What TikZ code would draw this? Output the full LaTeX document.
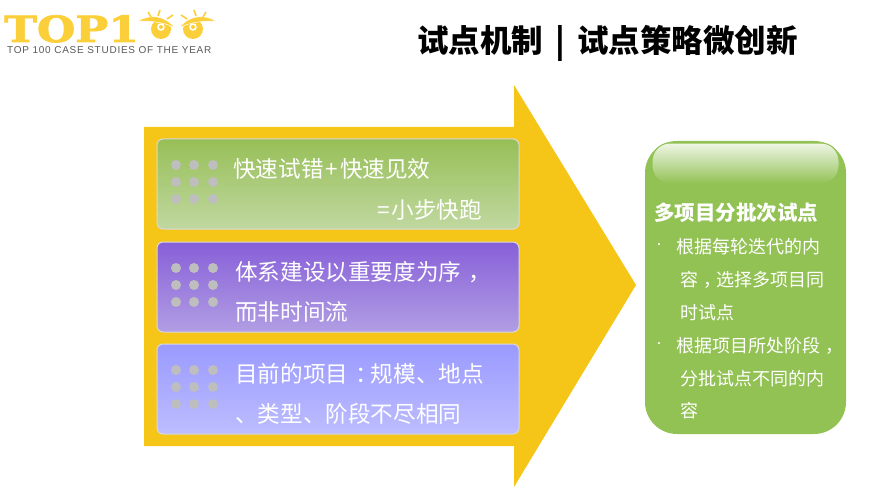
\documentclass[tikz,border=0pt]{standalone}
\usepackage{fontspec}
\setmainfont{Noto Sans CJK SC}
\newfontfamily\logofont[LetterSpace=7.5]{Liberation Sans}
\newfontfamily\topfont[BoldFeatures={FakeBold=2}]{DejaVu Serif}
\newfontfamily\dotfont{Liberation Sans}
\newcommand{\cellmark}[1]{\hspace{.32em}#1\hspace{-.32em}}
\definecolor{arrowyellow}{HTML}{F5C518}
\definecolor{logoyellow}{HTML}{FBCF3A}
\definecolor{sidegreen}{HTML}{92C154}
\definecolor{dotgray}{HTML}{BEBEBE}
\definecolor{greentop}{HTML}{97BF57}
\definecolor{greenlow}{HTML}{C0D8A0}
\definecolor{purpletop}{HTML}{875FD8}
\definecolor{purplelow}{HTML}{B19EE4}
\definecolor{bluetop}{HTML}{9A9AFF}
\definecolor{bluelow}{HTML}{BDBDFF}
\tikzset{
    pilotbox/.style={draw=white!85!black, line width=1pt, rounded corners=6pt},
    boxtext/.style={anchor=west, inner sep=0pt, text=white, font=\fontsize{22.6}{22.6}\selectfont},
    sidetext/.style={anchor=west, inner sep=0pt, text=white, font=\fontsize{18}{18}\selectfont},
    lash/.style={draw=logoyellow, line width=1.6pt},
}
\begin{document}
\begin{tikzpicture}[x=1pt, y=-1pt]
    \useasboundingbox (0,0) rectangle (875,492);

    % logo
    \node[anchor=base west, inner sep=0pt, text=logoyellow] (logotop) at (4,42) {\scalebox{1}[.82]{\fontsize{44}{44}\topfont\bfseries TOP1}};
    \node[anchor=west, inner sep=0pt, text=black!65] (logoline) at (7,50) {\fontsize{10}{10}\logofont TOP 100 CASE STUDIES OF THE YEAR};
    \foreach \ms/\mx in {1/0,-1/354} {
        \begin{scope}[xshift=\mx pt, xscale=\ms]
            \fill[logoyellow] (161,29) circle (10);
            \fill[white] (161,27) circle (3.8);
            \fill[logoyellow] (161,27) circle (2);
            \fill[logoyellow, draw=white, line width=0.5pt] (138,21) .. controls (150,14) and (165,15) .. (175,28) .. controls (165,22) and (150,21) .. (138,21) -- cycle;
            \draw[lash] (148,12) -- (151,17);
            \draw[lash] (160,10) -- (158,16);
            \draw[lash] (173,15) -- (167,19);
        \end{scope}
    }

    % title
    \node[inner sep=0pt, font=\fontsize{31.5}{31.5}\selectfont\bfseries] (title) at (607.5,43.5) {试点机制\hspace{12pt}|\hspace{12pt}试点策略微创新};

    % big arrow
    \fill[arrowyellow] (144,127) -- (514,127) -- (514,85) -- (636,285) -- (514,487) -- (514,446) -- (144,446) -- cycle;

    % boxes
    \draw[pilotbox, top color=greentop, bottom color=greenlow] (157,139) rectangle (519,229);
    \draw[pilotbox, top color=purpletop, bottom color=purplelow] (157,242) rectangle (519,332);
    \draw[pilotbox, top color=bluetop, bottom color=bluelow] (157,344) rectangle (519,434);
    \foreach \by in {139,242,344}
        \foreach \dx in {176,194,213}
            \foreach \dy in {26,43,60}
                \fill[dotgray] (\dx,\by+\dy) circle (5);

    \node[boxtext] (fastA) at (233,169) {快速试错\hspace{2pt}+\hspace{2pt}快速见效};
    \node[boxtext] (fastB) at (377,210) {=\hspace{2pt}小步快跑};
    \node[boxtext] (orderA) at (235,272) {体系建设以重要度为序\cellmark{，}};
    \node[boxtext] (orderB) at (235,312) {而非时间流};
    \node[boxtext] (goalA) at (235,374) {目前的项目\cellmark{：}规模、地点};
    \node[boxtext] (goalB) at (235,414) {、类型、阶段不尽相同};

    % side panel
    \fill[sidegreen, rounded corners=32pt] (645,141) rectangle (846,434);
    \draw[draw=sidegreen, line width=1pt, top color=white!85!sidegreen, bottom color=sidegreen, rounded corners=18pt] (652,143) rectangle (839,184);

    \node[sidetext, font=\fontsize{20.5}{20.5}\selectfont\bfseries] (sidehead) at (654,213) {多项目分批次试点};
    \node[sidetext] (dotA) at (656,247) {\dotfont ·};
    \node[sidetext] (roundA) at (676,247) {根据每轮迭代的内};
    \node[sidetext] (roundB) at (680,280) {容\cellmark{，}选择多项目同};
    \node[sidetext] (roundC) at (680,313) {时试点};
    \node[sidetext] (dotB) at (656,346) {\dotfont ·};
    \node[sidetext] (stageA) at (676,346) {根据项目所处阶段\cellmark{，}};
    \node[sidetext] (stageB) at (680,379) {分批试点不同的内};
    \node[sidetext] (stageC) at (680,411) {容};
\end{tikzpicture}
\end{document}
